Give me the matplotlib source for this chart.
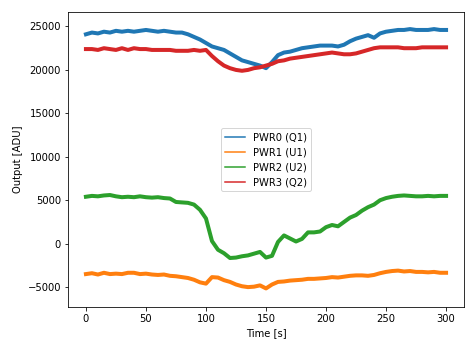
import matplotlib
matplotlib.use("Agg")
import matplotlib.pyplot as plt
import numpy as np

time_s = list(range(0, 301, 5))

pwr0_q1 = [24100, 24300, 24200, 24400, 24300, 24500, 24400, 24500, 24400, 24500,
           24600, 24500, 24400, 24500, 24400, 24300, 24300, 24100, 23800, 23500,
           23100, 22700, 22500, 22300, 21900, 21500, 21100, 20900, 20700, 20500,
           20200, 20900, 21700, 22000, 22100, 22300, 22500, 22600, 22700, 22800,
           22800, 22800, 22700, 22900, 23300, 23600, 23800, 24000, 23700, 24200,
           24400, 24500, 24600, 24600, 24700, 24600, 24600, 24600, 24700, 24600,
           24600]

pwr1_u1 = [-3500, -3400, -3550, -3350, -3500, -3450, -3500, -3350, -3350, -3500,
           -3450, -3550, -3600, -3550, -3700, -3750, -3850, -3950, -4150, -4450,
           -4600, -3850, -3900, -4200, -4400, -4700, -4900, -5000, -4950, -4800,
           -5150, -4700, -4400, -4350, -4250, -4200, -4150, -4050, -4050, -4000,
           -3950, -3850, -3900, -3800, -3700, -3650, -3650, -3700, -3600, -3400,
           -3250, -3150, -3100, -3200, -3150, -3250, -3250, -3300, -3250, -3350,
           -3350]

pwr2_u2 = [5400, 5500, 5450, 5550, 5600, 5450, 5350, 5400, 5350, 5450,
           5350, 5300, 5350, 5250, 5200, 4800, 4750, 4700, 4500, 3900,
           2900, 300, -700, -1100, -1650, -1600, -1450, -1350, -1150, -950,
           -1600, -1400, 200, 950, 600, 250, 550, 1300, 1300, 1400,
           1900, 2150, 2000, 2500, 3000, 3300, 3800, 4200, 4500, 5000,
           5250, 5400, 5500, 5550, 5500, 5450, 5450, 5500, 5450, 5500,
           5500]

pwr3_q2 = [22400, 22400, 22300, 22500, 22400, 22300, 22500, 22300, 22500, 22400,
           22400, 22300, 22300, 22300, 22300, 22200, 22200, 22200, 22300, 22200,
           22300, 21600, 21000, 20500, 20200, 20000, 19900, 20000, 20200, 20300,
           20500, 20700, 21000, 21100, 21300, 21400, 21500, 21600, 21700, 21800,
           21900, 22000, 21900, 21800, 21800, 21900, 22100, 22300, 22500, 22600,
           22600, 22600, 22600, 22500, 22500, 22500, 22600, 22600, 22600, 22600,
           22600]

labels = ["PWR0 (Q1)", "PWR1 (U1)", "PWR2 (U2)", "PWR3 (Q2)"]
series = [pwr0_q1, pwr1_u1, pwr2_u2, pwr3_q2]
colors = ["#1f77b4", "#ff7f0e", "#2ca02c", "#d62728"]

fig = plt.figure(figsize=(475 / 72, 347 / 72), dpi=72)
ax = fig.add_axes([0.143, 0.115, 0.834, 0.85])
for vals, lab, c in zip(series, labels, colors):
    ax.plot(time_s, vals, color=c, lw=4.0, label=lab)

ax.set_xlim(-15, 315)
ax.set_ylim(-7300, 26650)
ax.set_xlabel("Time [s]")
ax.set_ylabel("Output [ADU]")
leg = ax.legend(loc="center")
for ln in leg.get_lines():
    ln.set_linewidth(1.5)

fig.savefig("out.png", dpi=72)
